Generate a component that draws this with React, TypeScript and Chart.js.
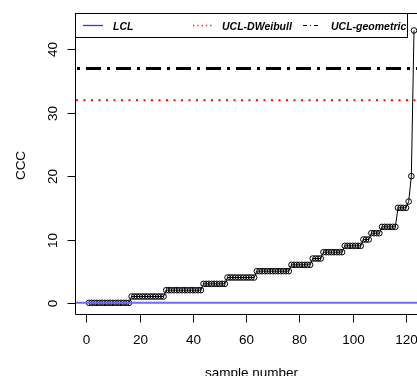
import React, { useEffect, useRef } from "react";
import { Chart, registerables } from "chart.js";

Chart.register(...registerables);

// ---- data ----
const cccValues = [
  0, 0, 0, 0, 0, 0, 0, 0, 0, 0, 0, 0, 0, 0, 0, 0,
  1, 1, 1, 1, 1, 1, 1, 1, 1, 1, 1, 1, 1,
  2, 2, 2, 2, 2, 2, 2, 2, 2, 2, 2, 2, 2, 2,
  3, 3, 3, 3, 3, 3, 3, 3, 3,
  4, 4, 4, 4, 4, 4, 4, 4, 4, 4, 4,
  5, 5, 5, 5, 5, 5, 5, 5, 5, 5, 5, 5, 5,
  6, 6, 6, 6, 6, 6, 6, 6,
  7, 7, 7, 7,
  8, 8, 8, 8, 8, 8, 8, 8,
  9, 9, 9, 9, 9, 9, 9,
  10, 10, 10,
  11, 11, 11, 11,
  12, 12, 12, 12, 12, 12,
  15, 15, 15, 15,
  16,
  20,
  43,
];
const sampleNumbers = cccValues.map((_, i) => i + 1);
const xTickValues = [0, 20, 40, 60, 80, 100, 120];
const yTickValues = [0, 10, 20, 30, 40];
const yLimits = [0, 44];
const LCL = 0;
const UCL_DWEIBULL = 32;
const UCL_GEOMETRIC = 37;
const legendLabels = ["LCL", "UCL-DWeibull", "UCL-geometric"];
const xTitle = "sample number";
const yTitle = "CCC";

// R-style 4% axis extension
const xMinData = sampleNumbers[0];
const xMaxData = sampleNumbers[sampleNumbers.length - 1];
const xPad = (xMaxData - xMinData) * 0.04;
const X_MIN = xMinData - xPad;
const X_MAX = xMaxData + xPad;
const yPad = (yLimits[1] - yLimits[0]) * 0.04;
const Y_MIN = yLimits[0] - yPad;
const Y_MAX = yLimits[1] + yPad;

const FONT = '"Liberation Sans", Arial, Helvetica, sans-serif';

const rAxesPlugin = {
  id: "rAxes",
  afterDatasetsDraw(chart: any) {
    const { ctx, chartArea: a, scales } = chart;
    const x = scales.x;
    const y = scales.y;
    ctx.save();
    ctx.strokeStyle = "#000";
    ctx.fillStyle = "#000";
    ctx.lineWidth = 1;
    ctx.setLineDash([]);
    // box
    ctx.beginPath();
    ctx.moveTo(a.right + 0.5, a.top + 0.5);
    ctx.lineTo(a.left - 0.5, a.top + 0.5);
    ctx.lineTo(a.left - 0.5, a.bottom + 0.5);
    ctx.lineTo(a.right + 0.5, a.bottom + 0.5);
    ctx.lineTo(a.right + 0.5, a.top + 0.5);
    ctx.stroke();

    ctx.font = `13.5px ${FONT}`;
    // x ticks
    ctx.textAlign = "center";
    ctx.textBaseline = "alphabetic";
    for (const v of xTickValues) {
      const px = Math.round(x.getPixelForValue(v)) + 0.5;
      ctx.beginPath();
      ctx.moveTo(px, a.bottom + 0.5);
      ctx.lineTo(px, a.bottom + 8.5);
      ctx.stroke();
      ctx.fillText(String(v), px, a.bottom + 29.5);
    }
    // y ticks
    for (const v of yTickValues) {
      const py = Math.round(y.getPixelForValue(v)) + 0.5;
      ctx.beginPath();
      ctx.moveTo(a.left - 0.5, py);
      ctx.lineTo(a.left - 8.5, py);
      ctx.stroke();
      ctx.save();
      ctx.translate(a.left - 19.3, py);
      ctx.rotate(-Math.PI / 2);
      ctx.fillText(String(v), 0, 0);
      ctx.restore();
    }
    // titles
    ctx.fillText(xTitle, (a.left + a.right) / 2, a.bottom + 63);
    ctx.save();
    ctx.translate(25, (a.top + a.bottom) / 2 + 2);
    ctx.rotate(-Math.PI / 2);
    ctx.fillText(yTitle, 0, 0);
    ctx.restore();
    ctx.restore();
  },
  afterDraw(chart: any) {
    const { ctx, chartArea: a } = chart;
    ctx.save();
    const left = a.left - 1;
    const top = a.top;
    const w = 332;
    const h = 24;
    ctx.fillStyle = "#fff";
    ctx.fillRect(left, top, w, h);
    ctx.strokeStyle = "#000";
    ctx.lineWidth = 1;
    ctx.setLineDash([]);
    ctx.strokeRect(left + 0.5, top + 0.5, w, h);
    const ly = top + 12.5;
    ctx.lineWidth = 1.3;
    // LCL
    ctx.strokeStyle = "#3333ff";
    ctx.beginPath();
    ctx.moveTo(left + 8, ly);
    ctx.lineTo(left + 28, ly);
    ctx.stroke();
    // DWeibull
    ctx.strokeStyle = "#ff2020";
    ctx.setLineDash([1.3, 3]);
    ctx.beginPath();
    ctx.moveTo(left + 118, ly);
    ctx.lineTo(left + 138, ly);
    ctx.stroke();
    // geometric
    ctx.strokeStyle = "#000";
    ctx.lineWidth = 1;
    ctx.setLineDash([4, 3, 1, 3]);
    ctx.beginPath();
    ctx.moveTo(left + 228, ly);
    ctx.lineTo(left + 246, ly);
    ctx.stroke();
    ctx.setLineDash([]);
    ctx.fillStyle = "#000";
    ctx.font = `italic bold 10.5px ${FONT}`;
    ctx.textAlign = "left";
    ctx.textBaseline = "alphabetic";
    ctx.fillText(legendLabels[0], left + 38, top + 16.5);
    ctx.fillText(legendLabels[1], left + 147, top + 16.5);
    ctx.fillText(legendLabels[2], left + 256, top + 16.5);
    ctx.restore();
  },
};

const CANVAS_W = 440;
const CANVAS_H = 376;

export default function App() {
  const ref = useRef<HTMLCanvasElement | null>(null);
  useEffect(() => {
    if (!ref.current) return;
    const chart = new Chart(ref.current, {
      type: "line",
      data: {
        datasets: [
          {
            label: "CCC",
            data: sampleNumbers.map((s, i) => ({ x: s, y: cccValues[i] })),
            borderColor: "#000",
            borderWidth: 1,
            pointRadius: 2.8,
            pointBorderWidth: 1,
            pointBorderColor: "#000",
            pointBackgroundColor: "rgba(0,0,0,0)",
            tension: 0,
            order: 4,
          },
          {
            label: legendLabels[0],
            data: [
              { x: X_MIN, y: LCL },
              { x: X_MAX, y: LCL },
            ],
            borderColor: "#6a6aff",
            borderWidth: 2,
            pointRadius: 0,
            order: 1,
          },
          {
            label: legendLabels[1],
            data: [
              { x: X_MIN, y: UCL_DWEIBULL },
              { x: X_MAX, y: UCL_DWEIBULL },
            ],
            borderColor: "#ff0000",
            borderWidth: 2,
            borderDash: [2, 5.5],
            pointRadius: 0,
            order: 2,
          },
          {
            label: legendLabels[2],
            data: [
              { x: X_MIN, y: UCL_GEOMETRIC },
              { x: X_MAX, y: UCL_GEOMETRIC },
            ],
            borderColor: "#000",
            borderWidth: 3,
            borderDash: [15, 6, 3, 6],
            borderDashOffset: 20,
            borderCapStyle: "butt",
            pointRadius: 0,
            order: 3,
          },
        ],
      },
      options: {
        responsive: false,
        animation: false,
        devicePixelRatio: 1,
        events: [],
        layout: { padding: { left: 76, top: 13, right: CANVAS_W - 427, bottom: 62 } },
        plugins: { legend: { display: false }, tooltip: { enabled: false } },
        scales: {
          x: { type: "linear", display: false, min: X_MIN, max: X_MAX },
          y: { type: "linear", display: false, min: Y_MIN, max: Y_MAX },
        },
      },
      plugins: [rAxesPlugin],
    } as any);
    return () => chart.destroy();
  }, []);
  return (
    <div
      style={{
        position: "fixed",
        left: 0,
        top: 0,
        width: 417,
        height: 376,
        overflow: "hidden",
        background: "#fff",
      }}
    >
      <canvas ref={ref} width={CANVAS_W} height={CANVAS_H} style={{ width: CANVAS_W, height: CANVAS_H, display: "block" }} />
    </div>
  );
}
